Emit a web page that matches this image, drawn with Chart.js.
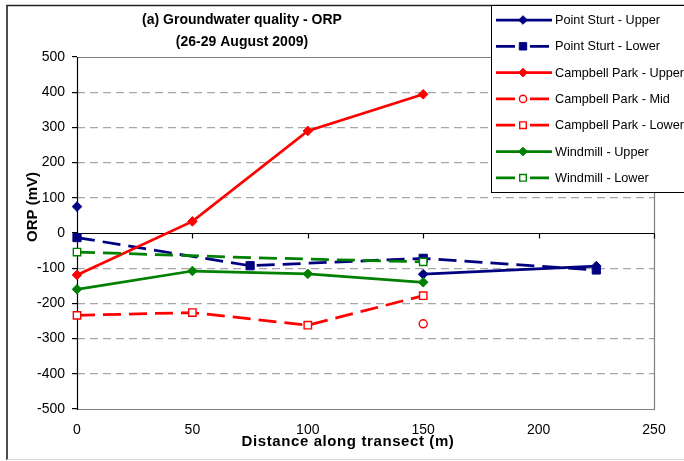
<!DOCTYPE html>
<html>
<head>
<meta charset="utf-8">
<script src="https://cdn.jsdelivr.net/npm/chart.js@4/dist/chart.umd.min.js"></script>
<style>
  html, body { margin: 0; padding: 0; background: #fff; }
  canvas { display: block; }
</style>
</head>
<body>
<canvas id="orp" width="684" height="461"></canvas>
<script>
// Distances along each transect (m)
const psDistance = [0, 75, 150, 225];
const cpDistance = [0, 50, 100, 150];
const wlDistance = [0, 75, 150];

// ORP readings (mV)
const psUpper = [75, null, -117, -94];
const psLower = [-13, -93, -72, -105];
const cpUpper = [-119, 33, 290, 394];
const cpMid   = [null, null, null, -258];
const cpLower = [-234, -226, -262, -178];
const wUpper  = [-160, -108, -116, -140];
const wLower  = [-54, -70, -82];

const seriesNames = [
  'Point Sturt - Upper', 'Point Sturt - Lower',
  'Campbell Park - Upper', 'Campbell Park - Mid', 'Campbell Park - Lower',
  'Windmill - Upper', 'Windmill - Lower'
];

const titleLines = ['(a) Groundwater quality - ORP', '(26-29 August 2009)'];
const xTitle = 'Distance along transect (m)';
const yTitle = 'ORP (mV)';

const xMin = 0, xMax = 250, xStep = 50;
const yMin = -500, yMax = 500, yStep = 100;

const NAVY = '#000080', RED = '#ff0000', GREEN = '#008000';
const DASH = [18, 8];
const FONT = '"Liberation Sans", Arial, Helvetica, sans-serif';

const pts = (xs, ys) => xs.map((x, i) => ({ x: x, y: ys[i] }));

function series(i, xs, ys, color, dashed, style) {
  const s = {
    label: seriesNames[i],
    data: pts(xs, ys),
    borderColor: color,
    backgroundColor: color,
    borderWidth: 2.75,
    borderDash: dashed ? DASH : [],
    pointBorderColor: color,
    pointBorderWidth: 1,
    pointBackgroundColor: color,
    tension: 0,
    spanGaps: false,
    clip: false,
    order: 6 - i
  };
  if (style === 'diamond') { s.pointStyle = 'rectRot'; s.pointRadius = 4.8; }
  if (style === 'square') { s.pointStyle = 'rect'; s.pointRadius = 5.8; }
  if (style === 'openSquare') {
    s.pointStyle = 'rect'; s.pointRadius = 5.2;
    s.pointBackgroundColor = '#fff'; s.pointBorderWidth = 1.4;
  }
  if (style === 'openCircle') {
    s.pointStyle = 'circle'; s.pointRadius = 4;
    s.pointBackgroundColor = '#fff'; s.pointBorderWidth = 1.4;
  }
  s.pointHoverRadius = s.pointRadius;
  return s;
}

const datasets = [
  series(0, psDistance, psUpper, NAVY, false, 'diamond'),
  series(1, psDistance, psLower, NAVY, true, 'square'),
  series(2, cpDistance, cpUpper, RED, false, 'diamond'),
  series(3, cpDistance, cpMid, RED, true, 'openCircle'),
  series(4, cpDistance, cpLower, RED, true, 'openSquare'),
  series(5, cpDistance, wUpper, GREEN, false, 'diamond'),
  series(6, wlDistance, wLower, GREEN, true, 'openSquare')
];
// Windmill lower: markers only at the measured end wells
datasets[6].pointRadius = [5.2, 0, 5.2];

// Plot frame, zero line with its tick marks
const framePlugin = {
  id: 'frame',
  beforeDatasetsDraw(chart) {
    const { ctx, chartArea: a, scales: { x, y } } = chart;
    ctx.save();
    ctx.strokeStyle = '#808080';
    ctx.lineWidth = 1.2;
    ctx.beginPath();
    ctx.moveTo(a.left, a.top + 0.5); ctx.lineTo(a.right + 0.5, a.top + 0.5);
    ctx.lineTo(a.right + 0.5, a.bottom + 0.5); ctx.lineTo(a.left, a.bottom + 0.5);
    ctx.stroke();

    const y0 = Math.round(y.getPixelForValue(0)) + 0.5;
    ctx.strokeStyle = '#000';
    ctx.lineWidth = 1.2;
    ctx.beginPath();
    ctx.moveTo(a.left, y0); ctx.lineTo(a.right, y0);
    for (let v = xMin + xStep; v <= xMax; v += xStep) {
      const px = Math.round(x.getPixelForValue(v)) + 0.5;
      ctx.moveTo(px, y0); ctx.lineTo(px, y0 + 5);
    }
    ctx.stroke();

    ctx.beginPath();
    ctx.moveTo(a.left + 0.5, a.top); ctx.lineTo(a.left + 0.5, a.bottom + 1);
    ctx.stroke();
    ctx.restore();
  }
};

// Titles, axis captions, legend and outer border
const captionPlugin = {
  id: 'captions',
  afterDraw(chart) {
    const ctx = chart.ctx;
    ctx.save();
    ctx.strokeStyle = '#222';
    ctx.lineWidth = 1.6;
    ctx.beginPath();
    ctx.moveTo(700, 5.5); ctx.lineTo(7, 5.5); ctx.lineTo(7, 460);
    ctx.stroke();
    ctx.strokeStyle = '#d8d8d8';
    ctx.lineWidth = 1;
    ctx.beginPath();
    ctx.moveTo(7, 459.5); ctx.lineTo(700, 459.5);
    ctx.stroke();

    ctx.fillStyle = '#000';
    ctx.textAlign = 'center';
    ctx.textBaseline = 'middle';
    ctx.font = 'bold 14px ' + FONT;
    ctx.fillText(titleLines[0], 242, 20);
    ctx.fillText(titleLines[1], 242, 42);

    ctx.font = 'bold 15px ' + FONT;
    if ('letterSpacing' in ctx) ctx.letterSpacing = '0.6px';
    ctx.fillText(xTitle, 348, 442);
    if ('letterSpacing' in ctx) ctx.letterSpacing = '0px';

    ctx.save();
    ctx.translate(33, 207);
    ctx.rotate(-Math.PI / 2);
    ctx.font = 'bold 15px ' + FONT;
    ctx.fillText(yTitle, 0, 0);
    ctx.restore();

    // legend
    const lx = 491.5, ly = 5.5, lw = 200, lh = 187;
    ctx.fillStyle = '#fff';
    ctx.fillRect(lx, ly, lw, lh);
    ctx.strokeStyle = '#000';
    ctx.lineWidth = 1;
    ctx.strokeRect(lx, ly, lw, lh);

    chart.data.datasets.forEach((ds, i) => {
      const cy = 20 + i * 26.3;
      ctx.strokeStyle = ds.borderColor;
      ctx.lineWidth = 2.75;
      ctx.setLineDash([]);
      ctx.beginPath();
      if (ds.borderDash && ds.borderDash.length) {
        ctx.moveTo(496, cy); ctx.lineTo(515, cy);
        ctx.moveTo(530, cy); ctx.lineTo(549, cy);
      } else {
        ctx.moveTo(496, cy); ctx.lineTo(552, cy);
      }
      ctx.stroke();

      const r = Array.isArray(ds.pointRadius) ? ds.pointRadius[0] : ds.pointRadius;
      ctx.fillStyle = ds.pointBackgroundColor;
      ctx.strokeStyle = ds.pointBorderColor;
      ctx.lineWidth = ds.pointBorderWidth;
      Chart.helpers.drawPoint(ctx, {
        pointStyle: ds.pointStyle, radius: r * 0.9, rotation: 0,
        borderWidth: ds.pointBorderWidth
      }, 523, cy);

      ctx.fillStyle = '#000';
      ctx.textAlign = 'left';
      ctx.textBaseline = 'middle';
      ctx.font = '12.7px ' + FONT;
      ctx.fillText(ds.label, 555, cy + 0.5);
    });
    ctx.restore();
  }
};

new Chart(document.getElementById('orp'), {
  type: 'line',
  data: { datasets: datasets },
  options: {
    responsive: false,
    animation: false,
    devicePixelRatio: 1,
    layout: { padding: { left: 0, top: 57, right: 30, bottom: 0 } },
    plugins: {
      legend: { display: false },
      title: { display: false },
      tooltip: { enabled: false }
    },
    scales: {
      x: {
        type: 'linear',
        min: xMin, max: xMax,
        afterFit(scale) { scale.height = 52; },
        ticks: {
          stepSize: xStep,
          color: '#000',
          padding: 13,
          maxRotation: 0,
          font: { family: FONT, size: 14 }
        },
        grid: { display: false, drawTicks: false },
        border: { display: false }
      },
      y: {
        type: 'linear',
        min: yMin, max: yMax,
        afterFit(scale) { scale.width = 77; },
        ticks: {
          stepSize: yStep,
          color: '#000',
          padding: 7,
          font: { family: FONT, size: 14 }
        },
        grid: {
          color: (c) => (c.tick && (c.tick.value === 0 || Math.abs(c.tick.value) === yMax))
            ? 'rgba(0,0,0,0)' : '#a6a6a6',
          lineWidth: 1.2,
          tickColor: '#000',
          tickLength: 5,
          tickWidth: 1.2
        },
        border: { display: false, dash: [8, 5] }
      }
    }
  },
  plugins: [framePlugin, captionPlugin]
});
</script>
</body>
</html>
